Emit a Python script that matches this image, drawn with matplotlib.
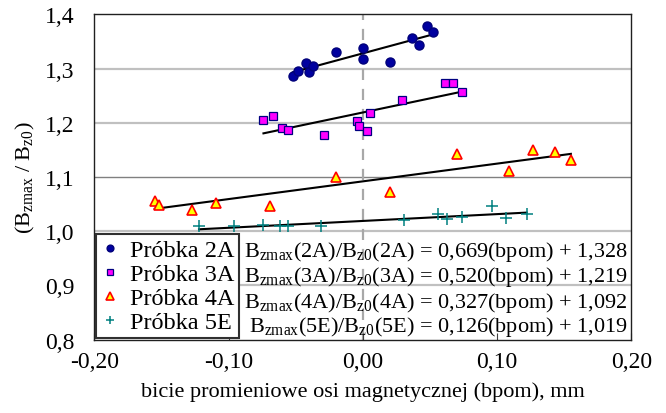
import matplotlib
matplotlib.use("Agg")
import matplotlib.pyplot as plt
from matplotlib.lines import Line2D
from matplotlib.ticker import FuncFormatter
import numpy as np

plt.rcParams['font.family'] = ['Liberation Serif', 'DejaVu Serif']
plt.rcParams['mathtext.fontset'] = 'custom'
plt.rcParams['mathtext.rm'] = 'Liberation Serif'
plt.rcParams['mathtext.it'] = 'Liberation Serif:italic'

# sample 2A
x_2a = [-0.052, -0.048, -0.042, -0.040, -0.037, -0.020, 0.000, 0.000, 0.020, 0.037, 0.042, 0.048, 0.052]
y_2a = [1.286, 1.296, 1.310, 1.294, 1.305, 1.331, 1.337, 1.317, 1.313, 1.356, 1.343, 1.378, 1.367]
# sample 3A
x_3a = [-0.074, -0.067, -0.060, -0.056, -0.029, -0.0045, -0.003, 0.003, 0.005, 0.029, 0.061, 0.067, 0.074]
y_3a = [1.206, 1.213, 1.190, 1.187, 1.178, 1.204, 1.194, 1.185, 1.218, 1.242, 1.274, 1.274, 1.257]
# sample 4A
x_4a = [-0.155, -0.152, -0.127, -0.109, -0.069, -0.020, 0.020, 0.070, 0.109, 0.127, 0.143, 0.155]
y_4a = [1.055, 1.049, 1.040, 1.052, 1.046, 1.100, 1.072, 1.143, 1.111, 1.150, 1.146, 1.132]
# sample 5E
x_5e = [-0.122, -0.096, -0.074, -0.062, -0.056, -0.031, 0.031, 0.056, 0.063, 0.074, 0.096, 0.107, 0.122]
y_5e = [1.009, 1.009, 1.011, 1.009, 1.009, 1.009, 1.020, 1.032, 1.023, 1.027, 1.047, 1.025, 1.032]

names = ['2A', '3A', '4A', '5E']
slopes = [0.669, 0.520, 0.327, 0.126]
intercepts = [1.328, 1.219, 1.092, 1.019]

x_ticks = [-0.20, -0.10, 0.00, 0.10, 0.20]
y_ticks = [0.8, 0.9, 1.0, 1.1, 1.2, 1.3, 1.4]

styles = [
    dict(marker='o', color='#00008c', mfc='#0000a0', mec='#00007a', ms=6.5, ls='none'),
    dict(marker='s', color='#000080', mfc='#ff00ff', mec='#000080', ms=6, mew=0.9, ls='none'),
    dict(marker='^', color='#ff0000', mfc='#ffff00', mec='#ff0000', ms=7, mew=1.2, ls='none'),
    dict(marker='+', color='#008080', mfc='#008080', mec='#008080', ms=8, mew=1.1, ls='none'),
]

fig = plt.figure(figsize=(6.66, 4.14), dpi=100)
ax = fig.add_axes([0.1416, 0.177, 0.8063, 0.786])

# horizontal grid
for yv in [0.9, 1.0, 1.2, 1.3]:
    ax.axhline(yv, color='#c0c0c0', lw=1.6, zorder=1)
ax.axhline(1.1, color='#808080', lw=1.0, zorder=1)
ax.axvline(0.0, color='#a8a8a8', lw=1.6, ls=(0, (5, 4)), zorder=1)

data = [(x_2a, y_2a), (x_3a, y_3a), (x_4a, y_4a), (x_5e, y_5e)]
for (xs, ys), st, a, b in zip(data, styles, slopes, intercepts):
    xs = np.array(xs)
    xl = np.array([xs.min(), xs.max()])
    ax.plot(xl, a * xl + b, color='black', lw=1.5, zorder=2)
    ax.plot(xs, ys, zorder=3, **st)

ax.set_xlim(-0.20, 0.20)
ax.set_ylim(0.8, 1.4)
ax.set_xticks(x_ticks)
ax.set_yticks(y_ticks)
ax.xaxis.set_major_formatter(FuncFormatter(lambda v, p: f"{v:.2f}".replace('.', ',')))
ax.yaxis.set_major_formatter(FuncFormatter(lambda v, p: f"{v:.1f}".replace('.', ',')))
ax.tick_params(axis='x', direction='in', length=5, labelsize=17, pad=8, color='#404040')
ax.tick_params(axis='y', direction='in', length=0, labelsize=17, pad=14)
for s in ax.spines.values():
    s.set_color('#202020')
    s.set_linewidth(1.0)

ax.set_xlabel('bicie promieniowe osi magnetycznej (bpom), mm', fontsize=16, labelpad=7)
ax.set_ylabel(r'(B$_{\mathrm{zmax}}$ / B$_{\mathrm{z0}}$)', fontsize=16, labelpad=6)

handles = [Line2D([], [], **dict(st, ms=st['ms'] * 0.75)) for st in styles]
leg = ax.legend(handles, ['Próbka ' + n for n in names], loc='lower left',
                bbox_to_anchor=(0.003, 0.005), borderaxespad=0, fontsize=17.5,
                frameon=True, fancybox=False, framealpha=1, edgecolor='#303030',
                handlelength=0.8, handletextpad=0.4, labelspacing=0.08,
                borderpad=0.2)
leg.get_frame().set_linewidth(1.5)
leg.set_zorder(5)

eq_y = [0.2716, 0.1948, 0.1167, 0.0430]
for n, a, b, yy in zip(names, slopes, intercepts, eq_y):
    txt = (r'B$_{\mathrm{zmax}}$(' + n + r')/B$_{\mathrm{z0}}$(' + n + ') = '
           + f"{a:.3f}".replace('.', ',') + '(bpom) + ' + f"{b:.3f}".replace('.', ','))
    ax.text(0.993, yy, txt, transform=ax.transAxes, ha='right', va='center',
            fontsize=16, zorder=6)

fig.savefig('out.png', dpi=100)
